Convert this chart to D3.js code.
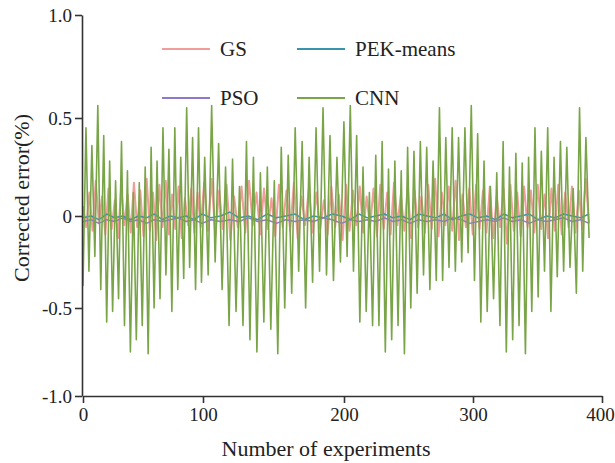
<!DOCTYPE html>
<html>
<head>
<meta charset="utf-8">
<script src="https://cdn.jsdelivr.net/npm/d3@7"></script>
<style>
  body { margin: 0; background: #fff; }
  svg text { font-family: "Liberation Serif", "Times New Roman", Times, "DejaVu Serif", serif !important; fill: #222; }
</style>
</head>
<body>
<svg id="chart" width="615" height="463"></svg>
<script>
// tick labels
var xTicks = [0, 100, 200, 300, 400];
var yTicks = [-1, -0.5, 0, 0.5, 1];
var yTickLabels = ["-1.0", "-0.5", "0", "0.5", "1.0"];
var lastExperiment = 390;

// series values (evenly spread over 0..390)
var gsValues = [
  0.05,-0.06,0.12,-0.08,0.18,-0.04,0.10,-0.10,0.14,-0.07,0.08,-0.12,0.15,-0.05,0.11,-0.09,0.17,-0.06,0.13,-0.11,
  0.19,-0.08,0.12,-0.13,0.16,-0.06,0.18,-0.10,0.11,-0.07,0.15,-0.12,0.09,-0.05,0.14,-0.09,0.12,-0.06,0.17,-0.08,
  0.19,-0.11,0.13,-0.07,0.16,-0.13,0.10,-0.06,0.15,-0.09,0.18,-0.05,0.12,-0.10,0.14,-0.07,0.09,-0.11,0.16,-0.06,
  0.13,-0.08,0.17,-0.12,0.10,-0.05,0.14,-0.09,0.12,-0.07,0.08,-0.10,0.15,-0.06,0.11,-0.13,0.16,-0.08,0.13,-0.05,
  0.15,-0.09,0.10,-0.06,0.14,-0.11,0.16,-0.07,0.12,-0.10,0.17,-0.05,0.11,-0.08,0.15,-0.12,0.13,-0.06,0.10,-0.09,
  0.16,-0.07,0.19,-0.11,0.12,-0.05,0.15,-0.08,0.18,-0.13,0.11,-0.06,0.14,-0.10,0.16,-0.07,0.13,-0.09,0.15,-0.12,
  0.10,-0.06,0.14,-0.15,0.16,-0.08,0.12,-0.11,0.15,-0.06,0.13,-0.09,0.16,-0.07,0.11,-0.12,0.14,-0.08,0.16,-0.10,
  0.12,-0.06,0.15,-0.09,0.13,-0.07,0.19,-0.04
];

var pekValues = [
  -0.01,0.00,-0.02,0.01,-0.01,0.00,-0.02,0.00,-0.01,0.01,-0.02,0.00,-0.01,0.00,-0.02,0.01,-0.01,0.00,0.02,-0.01,
  0.00,-0.02,0.01,-0.01,0.00,0.01,-0.02,0.00,-0.01,0.01,0.00,-0.02,0.01,-0.01,0.00,0.01,-0.01,0.00,-0.02,0.01,
  0.00,-0.01,0.01,-0.02,0.00,0.01,-0.01,0.00,-0.02,0.01,-0.01,0.00,0.01,-0.02,0.00,-0.01,0.01,0.00,-0.01,0.01
];

var psoValues = [
  -0.03,-0.02,-0.04,-0.02,-0.03,-0.01,-0.03,-0.02,-0.04,-0.02,-0.03,-0.02,-0.01,-0.03,-0.02,-0.04,-0.02,-0.03,-0.02,-0.03,
  -0.01,-0.03,-0.02,-0.04,-0.02,-0.03,-0.02,-0.03,-0.01,-0.02,-0.04,-0.02,-0.03,-0.02,-0.03,-0.01,-0.03,-0.02,-0.04,-0.02,
  -0.03,-0.02,-0.03,-0.01,-0.02,-0.04,-0.03,-0.02,-0.03,-0.01,-0.03,-0.02,-0.04,-0.02,-0.03,-0.02,-0.01,-0.03,-0.02,-0.04
];

var cnnValues = [
  -0.38,0.45,-0.30,0.36,-0.22,0.56,-0.40,0.41,-0.58,0.28,-0.52,0.18,-0.45,0.38,-0.60,0.23,-0.75,0.12,-0.68,0.17,
  -0.60,0.25,-0.76,0.35,-0.50,0.28,-0.45,0.45,-0.32,0.34,-0.52,0.45,-0.40,0.30,-0.34,0.55,-0.28,0.40,-0.40,0.45,
  -0.36,0.30,-0.32,0.56,-0.25,0.37,-0.40,0.25,-0.60,0.29,-0.52,0.15,-0.60,0.38,-0.68,0.30,-0.75,0.22,-0.58,0.25,
  -0.62,0.18,-0.76,0.35,-0.50,0.31,-0.42,0.45,-0.30,0.38,-0.50,0.30,-0.36,0.45,-0.30,0.55,-0.32,0.41,-0.35,0.30,
  -0.25,0.48,-0.22,0.56,-0.30,0.41,-0.58,0.25,-0.52,0.12,-0.60,0.31,-0.60,0.38,-0.75,0.24,-0.68,0.28,-0.60,0.23,
  -0.76,0.35,-0.50,0.33,-0.42,0.38,-0.32,0.35,-0.40,0.28,-0.35,0.55,-0.35,0.40,-0.28,0.45,-0.30,0.40,-0.25,0.45,
  -0.20,0.56,-0.35,0.42,-0.58,0.28,-0.52,0.15,-0.45,0.22,-0.60,0.38,-0.75,0.25,-0.68,0.32,-0.60,0.27,-0.76,0.30,
  -0.52,0.45,-0.44,0.33,-0.30,0.45,-0.52,0.30,-0.33,0.38,-0.30,0.35,-0.28,0.14,-0.42,0.55,-0.30,0.40,-0.12
];

var seriesNames = ["GS", "PEK-means", "PSO", "CNN"];
var seriesColors = ["#f09d9b", "#3a93ad", "#8d78cc", "#79a548"];
var serif = "'Liberation Serif', 'Times New Roman', Times, 'DejaVu Serif', serif";

var svg = d3.select("#chart");

// the reference axes are slightly uneven, so map tick to tick
var x = d3.scaleLinear().domain(xTicks).range([83, 203, 344, 473, 602]);
var y = d3.scaleLinear().domain(yTicks).range([396, 308, 216, 118, 15]);

var toPoints = function(values){
  var step = lastExperiment / (values.length - 1);
  return values.map(function(v, i){ return [i * step, v]; });
};

var line = d3.line()
  .x(function(d){ return x(d[0]); })
  .y(function(d){ return y(d[1]); });

var allSeries = [
  {name: "GS", values: gsValues, width: 2},
  {name: "PEK-means", values: pekValues, width: 1.5},
  {name: "PSO", values: psoValues, width: 1.5},
  {name: "CNN", values: cnnValues, width: 1.6}
];

svg.append("g").selectAll("path")
  .data(allSeries)
  .enter().append("path")
  .attr("fill", "none")
  .attr("stroke", function(d){ return seriesColors[seriesNames.indexOf(d.name)]; })
  .attr("stroke-width", function(d){ return d.width; })
  .attr("stroke-linejoin", "round")
  .attr("d", function(d){ return line(toPoints(d.values)); });

// axes
var xAxis = svg.append("g")
  .attr("transform", "translate(0,396)")
  .call(d3.axisBottom(x).tickValues(xTicks).tickSize(7).tickPadding(5).tickSizeOuter(0));
var yAxis = svg.append("g")
  .attr("transform", "translate(82,0)")
  .call(d3.axisLeft(y).tickValues(yTicks).tickSize(7).tickPadding(3).tickSizeOuter(0)
    .tickFormat(function(d, i){ return yTickLabels[i]; }));

[xAxis, yAxis].forEach(function(a){
  a.attr("font-family", serif);
  a.selectAll("path, line").attr("stroke", "#333").attr("stroke-width", 1.6);
  a.selectAll("text").attr("font-family", serif).style("font-size", "19px").attr("fill", "#222");
});
// last label sits against the right edge, as in the reference
xAxis.selectAll(".tick text").filter(function(d){ return d === 400; }).attr("dx", "-2");

// axis titles
svg.append("text")
  .attr("x", 326).attr("y", 456)
  .attr("text-anchor", "middle")
  .attr("font-family", serif)
  .style("font-size", "22px")
  .text("Number of experiments");

svg.append("text")
  .attr("transform", "translate(29,198) rotate(-90)")
  .attr("text-anchor", "middle")
  .attr("font-family", serif)
  .style("font-size", "22px")
  .text("Corrected error(%)");

// legend
var legendPos = [[162, 49], [297, 49], [162, 98], [297, 98]];
var legend = svg.append("g").selectAll("g")
  .data(seriesNames)
  .enter().append("g")
  .attr("transform", function(d, i){ return "translate(" + legendPos[i][0] + "," + legendPos[i][1] + ")"; });

legend.append("line")
  .attr("x1", 0).attr("x2", 48)
  .attr("stroke", function(d, i){ return seriesColors[i]; })
  .attr("stroke-width", 2);

legend.append("text")
  .attr("x", 58).attr("y", 7)
  .attr("font-family", serif)
  .style("font-size", "21px")
  .text(function(d){ return d; });
</script>
</body>
</html>
